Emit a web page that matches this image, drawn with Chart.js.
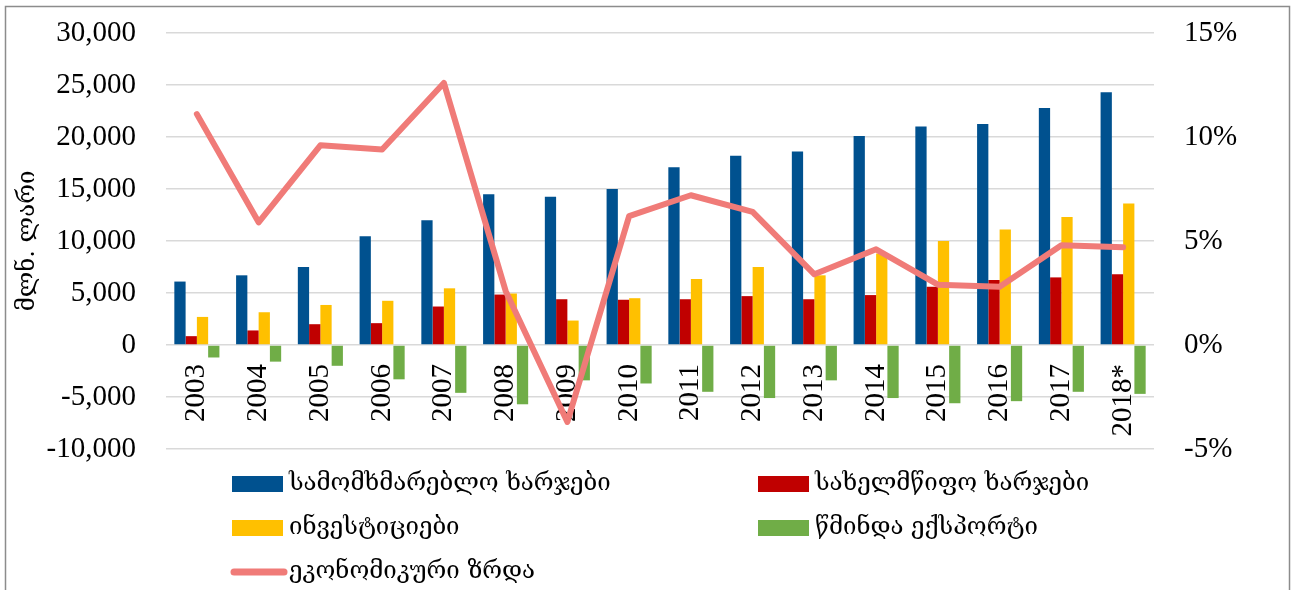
<!DOCTYPE html>
<html>
<head>
<meta charset="utf-8">
<script src="https://cdn.jsdelivr.net/npm/chart.js@4/dist/chart.umd.min.js"></script>
<style>
  html, body { margin: 0; padding: 0; background: #fff; }
</style>
</head>
<body>
<canvas id="gdpChart" width="1295" height="590"></canvas>
<script>
const years = ['2003', '2004', '2005', '2006', '2007', '2008', '2009', '2010',
  '2011', '2012', '2013', '2014', '2015', '2016', '2017', '2018*'];

// მლნ. ლარი
const consumption = [6100, 6700, 7500, 10450, 12000, 14500, 14250, 15000,
  17100, 18200, 18600, 20100, 21000, 21250, 22800, 24300];
const government = [850, 1400, 2000, 2100, 3700, 4850, 4400, 4350,
  4400, 4700, 4400, 4800, 5600, 6250, 6500, 6800];
const investment = [2700, 3150, 3850, 4250, 5450, 4950, 2350, 4500,
  6350, 7500, 6700, 8800, 10000, 11100, 12300, 13600];
const netExport = [-1200, -1600, -2000, -3300, -4600, -5700, -3400, -3700,
  -4500, -5100, -3400, -5100, -5600, -5400, -4500, -4700];

// %
const growth = [11.1, 5.9, 9.6, 9.4, 12.6, 2.6, -3.7, 6.2,
  7.2, 6.4, 3.4, 4.6, 2.9, 2.8, 4.8, 4.7];

const leftTicks = [-10000, 30000, 5000];
const rightTicks = [-5, 15, 5];

const numFont = { family: "'Liberation Serif', 'Times New Roman', serif", size: 29 };
const geoFont = "'DejaVu Serif', 'DejaVu Sans', serif";

// frame round the chart + legend in two columns
const framePlugin = {
  id: 'frame',
  beforeDraw(chart) {
    const ctx = chart.ctx;
    ctx.save();
    ctx.strokeStyle = '#8c8c8c';
    ctx.lineWidth = 1.5;
    ctx.strokeRect(5.5, 6.5, 1284, 600);
    ctx.restore();
  }
};

const legendPlugin = {
  id: 'gridLegend',
  afterDraw(chart) {
    const ctx = chart.ctx;
    const slots = [[232, 484], [758, 484], [232, 528], [758, 528], [232, 572]];
    ctx.save();
    ctx.font = '24px ' + geoFont;
    ctx.textBaseline = 'middle';
    chart.data.datasets.forEach((ds, i) => {
      const [x, y] = slots[i];
      if (ds.type === 'line') {
        ctx.strokeStyle = ds.borderColor;
        ctx.lineWidth = 7;
        ctx.lineCap = 'round';
        ctx.beginPath();
        ctx.moveTo(x + 2, y);
        ctx.lineTo(x + 52, y);
        ctx.stroke();
      } else {
        ctx.fillStyle = ds.backgroundColor;
        ctx.fillRect(x, y - 8, 51, 16);
      }
      ctx.fillStyle = '#000';
      ctx.fillText(ds.label, x + 57, y);
    });
    ctx.restore();
  }
};

// fixed axis widths, no extra top/bottom padding from tick labels
const fixAxis = (width) => (scale) => {
  scale.width = width;
  scale.paddingTop = 0;
  scale.paddingBottom = 0;
};

const data = {
  labels: years,
  datasets: [
    {
      label: 'სამომხმარებლო ხარჯები',
      backgroundColor: '#00518F',
      data: consumption,
      order: 1
    },
    {
      label: 'სახელმწიფო ხარჯები',
      backgroundColor: '#C00000',
      data: government,
      order: 1
    },
    {
      label: 'ინვესტიციები',
      backgroundColor: '#FFC000',
      data: investment,
      order: 1
    },
    {
      label: 'წმინდა ექსპორტი',
      backgroundColor: '#70AD47',
      data: netExport,
      order: 1
    },
    {
      type: 'line',
      label: 'ეკონომიკური ზრდა',
      borderColor: '#F07B78',
      backgroundColor: '#F07B78',
      borderWidth: 6,
      borderJoinStyle: 'round',
      borderCapStyle: 'round',
      pointRadius: 0,
      tension: 0,
      yAxisID: 'y1',
      data: growth,
      order: 0
    }
  ]
};

const config = {
  type: 'bar',
  data: data,
  options: {
    responsive: false,
    animation: false,
    layout: { padding: { top: 33, bottom: 141, left: 0, right: 0 } },
    datasets: { bar: { categoryPercentage: 0.73, barPercentage: 1 } },
    plugins: { legend: { display: false }, tooltip: { enabled: false } },
    scales: {
      x: {
        position: { y: 0 },
        grid: { display: false, drawTicks: false },
        border: { display: false },
        ticks: { font: numFont, color: '#000', minRotation: 90, maxRotation: 90, padding: 19, autoSkip: false }
      },
      y: {
        position: 'left',
        min: leftTicks[0],
        max: leftTicks[1],
        grid: { color: '#D9D9D9', lineWidth: 1.5, drawTicks: false },
        border: { display: false },
        ticks: { stepSize: leftTicks[2], font: numFont, color: '#000', padding: 30 },
        title: {
          display: true,
          text: 'მლნ. ლარი',
          color: '#000',
          font: { family: geoFont, size: 24 },
          padding: { top: 13, bottom: 0 }
        },
        afterFit: fixAxis(166)
      },
      y1: {
        position: 'right',
        min: rightTicks[0],
        max: rightTicks[1],
        grid: { display: false, drawTicks: false },
        border: { display: false },
        ticks: { stepSize: rightTicks[2], font: numFont, color: '#000', padding: 30,
          callback: (v) => v + '%' },
        afterFit: fixAxis(141)
      }
    }
  },
  plugins: [framePlugin, legendPlugin]
};

const gdpChart = new Chart(document.getElementById('gdpChart'), config);
</script>
</body>
</html>
